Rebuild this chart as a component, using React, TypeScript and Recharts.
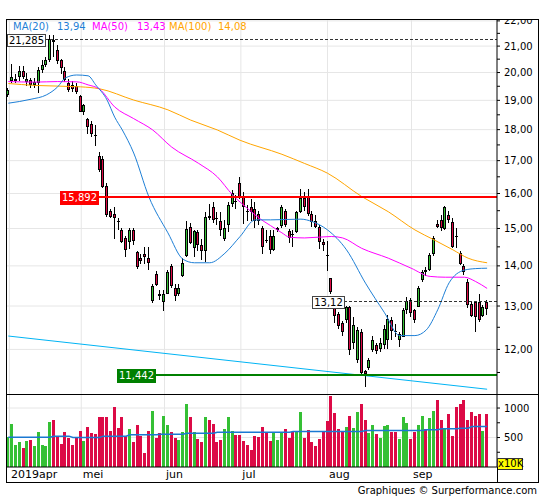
import React from 'react';
import { ComposedChart, Bar, Line, XAxis, YAxis, CartesianGrid, ReferenceLine } from 'recharts';

const FONT = '"DejaVu Sans", Verdana, sans-serif';
const GREEN = '#35c035';
const RED = '#dc0a46';
const MA20_COLOR = '#1e7fd6';
const MA50_COLOR = '#ff00ff';
const MA100_COLOR = '#ffa500';
const TREND_COLOR = '#00b4f4';
const VOLMA_COLOR = '#1a78d2';
const GRID = '#e6e6e6';

// x domain in trading-day index, price domain (log), volume domain (x10K)
const X_MIN = -0.34;
const X_MAX = 128.6;
const P_MIN = 11.032;
const P_MAX = 22.036;
const V_MAX = 1221;

// one candle per trading day, 2019-04-01 .. 2019-09-27
const opens = [
  19.2, 19.68, 19.7, 19.85, 20.05, 19.66, 19.73, 19.56, 19.6, 20.1,
  20.28, 20.45, 21.25, 20.85, 20.45, 20.05, 19.62, 19.55, 19.5, 19.15,
  18.58, 18.35, 18.2, 17.82, 17.15, 17.05, 16.22, 15.48, 15.42, 15.22,
  14.97, 14.75, 14.63, 14.95, 14.35, 14.2, 14.32, 14.2, 13.12, 13.78,
  13.28, 13.1, 13.3, 14.0, 13.45, 13.28, 13.75, 14.26, 15.05, 14.47,
  14.9, 14.55, 14.38, 15.35, 15.6, 15.3, 15.22, 14.7, 15.1, 15.68,
  15.78, 16.3, 15.9, 15.5, 15.6, 15.55, 15.4, 15.02, 14.68, 14.8,
  14.42, 14.95, 15.06, 15.48, 14.94, 14.86, 14.9, 15.45, 15.86, 15.89,
  15.42, 15.22, 15.04, 14.62, 14.28, 13.68, 12.98, 12.8, 12.6, 12.67,
  12.98, 12.15, 11.77, 12.4, 11.53, 11.6, 11.99, 12.1, 12.0, 12.1,
  12.22, 12.68, 12.41, 12.22, 12.28, 12.9, 13.15, 12.9, 12.98, 13.64,
  13.9, 13.9, 14.3, 15.12, 15.24, 14.98, 15.38, 15.19, 14.8, 14.33,
  13.99, 13.6, 13.06, 13.1, 13.1, 12.76, 13.1,
];
const highs = [
  19.45, 20.3, 19.95, 20.25, 20.25, 20.0, 19.8, 19.8, 20.2, 20.45,
  20.6, 21.45, 21.44, 21.05, 20.5, 20.2, 19.78, 19.7, 19.6, 19.2,
  18.88, 18.4, 18.3, 18.15, 17.27, 17.15, 16.3, 15.55, 15.62, 15.3,
  15.0, 14.8, 15.0, 15.0, 14.4, 14.3, 14.5, 14.5, 13.53, 13.87,
  13.4, 13.38, 13.9, 14.05, 13.55, 13.55, 14.2, 15.22, 15.15, 14.97,
  14.97, 14.7, 15.45, 15.7, 15.75, 15.45, 15.45, 15.25, 15.75, 16.1,
  15.95, 16.5, 16.05, 15.65, 15.85, 15.75, 15.5, 15.08, 14.95, 14.95,
  14.95, 15.05, 15.65, 15.55, 14.98, 14.95, 15.5, 16.12, 16.05, 16.12,
  15.48, 15.38, 15.1, 14.7, 14.65, 13.7, 13.02, 12.85, 12.65, 13.0,
  13.0, 12.75, 12.5, 12.45, 11.55, 11.82, 12.3, 12.15, 12.25, 12.55,
  12.78, 12.75, 12.57, 12.4, 12.96, 13.23, 13.2, 12.92, 13.5, 13.9,
  13.98, 14.33, 14.78, 15.24, 15.38, 15.63, 15.48, 15.28, 15.02, 14.4,
  14.05, 13.67, 13.12, 13.12, 13.28, 13.02, 13.14,
];
const lows = [
  19.12, 19.62, 19.6, 19.7, 19.75, 19.5, 19.45, 19.45, 19.25, 20.0,
  20.2, 20.4, 20.6, 20.3, 19.95, 19.65, 19.3, 19.3, 19.22, 18.58,
  18.5, 17.85, 17.75, 17.45, 16.65, 16.15, 15.33, 15.3, 14.72, 14.95,
  14.6, 14.22, 14.45, 14.55, 13.93, 14.05, 14.05, 13.9, 13.08, 13.5,
  13.15, 12.88, 13.28, 13.45, 13.12, 13.25, 13.72, 14.22, 14.57, 14.22,
  14.38, 14.15, 14.1, 15.25, 15.15, 15.1, 14.8, 14.65, 14.9, 15.6,
  15.55, 15.85, 15.12, 15.2, 15.2, 15.0, 15.1, 14.3, 14.6, 14.3,
  14.38, 14.9, 15.0, 15.05, 14.6, 14.5, 14.88, 15.43, 15.5, 15.34,
  15.05, 15.0, 14.45, 14.4, 13.87, 13.3, 12.6, 12.45, 12.3, 12.6,
  11.88, 12.0, 11.7, 11.45, 11.2, 11.55, 11.95, 11.9, 11.95, 12.0,
  12.0, 12.2, 12.27, 12.05, 12.28, 12.8, 12.75, 12.6, 12.97, 13.6,
  13.75, 13.88, 14.27, 15.0, 14.93, 14.96, 15.15, 14.47, 14.47, 14.03,
  13.76, 12.95, 12.74, 12.39, 12.62, 12.74, 12.78,
];
const closes = [
  19.35, 19.85, 19.78, 20.05, 19.83, 19.78, 19.53, 19.66, 20.1, 20.28,
  20.47, 21.285, 21.15, 20.42, 20.15, 19.73, 19.37, 19.4, 19.3, 18.6,
  18.83, 18.1, 17.85, 17.78, 16.7, 16.2, 15.38, 15.33, 15.28, 15.18,
  14.63, 14.42, 14.95, 14.65, 13.98, 14.12, 14.22, 14.08, 13.5, 13.52,
  13.25, 13.3, 13.85, 13.5, 13.25, 13.45, 14.07, 14.98, 14.6, 14.93,
  14.55, 14.38, 15.32, 15.3, 15.25, 15.26, 14.97, 15.0, 15.65, 16.0,
  15.74, 15.88, 15.6, 15.46, 15.45, 15.2, 15.2, 14.5, 14.65, 14.42,
  14.78, 15.02, 15.6, 15.1, 14.74, 14.83, 15.45, 15.86, 15.6, 15.4,
  15.17, 15.05, 14.62, 14.55, 14.25, 13.33, 12.77, 12.52, 12.4, 12.98,
  11.99, 12.55, 12.44, 11.49, 11.47, 11.77, 12.21, 11.96, 12.14, 12.46,
  12.69, 12.42, 12.39, 12.35, 12.9, 13.12, 12.84, 12.67, 13.44, 13.85,
  13.83, 14.28, 14.75, 15.05, 15.0, 15.6, 15.24, 14.5, 14.76, 14.05,
  13.84, 13.03, 12.77, 12.75, 12.66, 12.98, 12.93,
];
// volume, x10K
const volumes = [
  506, 731, 377, 427, 326, 444, 461, 360, 596, 377, 360, 765, 798, 517, 394, 596, 495, 377, 506, 613,
  444, 681, 585, 562, 850, 850, 850, 613, 1018, 664, 850, 534, 646, 427, 714, 534, 242, 613, 951, 495, 585, 867,
  720, 596, 489, 461, 600, 1069, 850, 596, 478, 422, 850, 800, 731, 416, 461, 640, 850, 610, 540, 540,
  440, 380, 292, 520, 506, 681, 585, 445, 569, 462, 586, 642, 490, 602, 602, 935, 495, 631, 417, 360, 478, 602, 783,
  1210, 923, 647, 602, 681, 867, 659, 940, 1070, 800, 574, 704, 563, 490, 698, 715, 597, 597, 478, 845, 743, 478,
  597, 715, 867, 642, 828, 951, 1137, 800, 653, 901, 529, 1013, 1070, 1137, 800, 935, 873, 901, 614, 901,
];

// moving averages: [day index, value]
const ma20Points: [number, number][] = [
  [0, 18.9], [6, 19.04], [10, 19.19], [13, 19.48], [15, 19.8], [18, 19.91], [21, 19.88], [23, 19.55],
  [26, 19.01], [28, 18.42], [30, 17.99], [33, 17.24], [37, 15.9], [42, 14.88], [46, 14.17], [49, 14.08],
  [53, 14.08], [57, 14.33], [61, 14.78], [65, 15.24], [69, 15.24], [77, 15.26], [80, 15.19], [84, 14.96],
  [89, 14.42], [94, 13.56], [99, 12.84], [103, 12.31], [107, 12.31], [110, 12.44], [113, 12.91],
  [116, 13.57], [120, 13.89], [123, 13.93], [126, 13.94],
];
const ma50Points: [number, number][] = [
  [0, 19.67], [7, 19.65], [13, 19.67], [18, 19.66], [21, 19.55], [24, 19.4], [28, 18.77], [33, 18.37],
  [38, 17.99], [43, 17.43], [50, 16.92], [55, 16.5], [59, 15.96], [63, 15.56], [66, 15.29], [69, 15.08],
  [72, 14.88], [74, 14.76], [78, 14.74], [85, 14.78], [88, 14.74], [93, 14.46], [100, 14.2], [106, 13.94],
  [111, 13.73], [115, 13.71], [120, 13.71], [123, 13.6], [126, 13.43],
];
const ma100Points: [number, number][] = [
  [0, 19.6], [7, 19.53], [19, 19.48], [24, 19.41], [33, 19.01], [42, 18.67], [48, 18.32], [55, 17.99],
  [61, 17.65], [72, 17.2], [78, 16.91], [84, 16.61], [93, 15.91], [100, 15.47], [107, 14.96],
  [112, 14.69], [117, 14.42], [121, 14.2], [126, 14.08],
];
const trendPoints: [number, number][] = [[0, 12.3], [126, 11.15]];
const volMaPoints: [number, number][] = [
  [0, 506], [11, 506], [12, 523], [16, 523], [17, 500], [24, 500], [25, 523], [31, 523], [32, 546],
  [39, 546], [40, 557], [46, 557], [47, 574], [54, 574], [55, 591], [74, 591], [75, 602], [93, 602],
  [94, 619], [109, 619], [110, 630], [113, 630], [114, 647], [118, 647], [119, 658], [121, 658],
  [122, 686], [126, 686],
];

// month grid lines (day index) and labels
const monthTicks = [0.3, 19.2, 41.1, 61.2, 84, 106.1];
const monthLabels = ['2019apr', 'mei', 'jun', 'jul', 'aug', 'sep'];

const priceTicks = [11.5, 12, 12.5, 13, 13.5, 14, 14.5, 15, 15.5, 16, 16.5, 17, 17.5, 18, 18.5, 19, 19.5, 20, 20.5, 21, 21.5, 22];
const priceGrid = [12, 13, 14, 15, 16, 17, 18, 19, 20, 21, 22];
const volumeTicks = [250, 500, 750, 1000];
const volumeGrid = [500, 1000];

// horizontal levels: value, decimals, day index where the label starts, style
const levels = [
  { value: 21.285, digits: 3, from: X_MIN, style: 'box' },
  { value: 15.892, digits: 3, from: 13.6, style: 'red' },
  { value: 11.442, digits: 3, from: 28.6, style: 'green' },
  { value: 13.12, digits: 2, from: 79.8, style: 'box' },
];

const fmt = (v: number, d = 2) => v.toFixed(d).replace('.', ',');
const textW = (s: string, size = 10) =>
  [...s].reduce((w, ch) => w + (ch === ',' || ch === '.' ? 0.318 : 0.636), 0) * size;

const ma20Map = new Map(ma20Points);
const ma50Map = new Map(ma50Points);
const ma100Map = new Map(ma100Points);
const trendMap = new Map(trendPoints);
const volMaMap = new Map(volMaPoints);

const priceRows = opens.map((o, i) => ({
  i,
  wick: [lows[i], highs[i]],
  body: [Math.min(o, closes[i]), Math.max(o, closes[i])],
  up: closes[i] >= o,
  ma20: ma20Map.get(i) ?? null,
  ma50: ma50Map.get(i) ?? null,
  ma100: ma100Map.get(i) ?? null,
  trend: trendMap.get(i) ?? null,
}));

const volumeRows = volumes.map((v, i) => ({
  i,
  vol: v,
  up: closes[i] >= opens[i],
  volMa: volMaMap.get(i) ?? null,
}));

const scaleFn = (axis: any) => (v: number) => {
  const s = axis?.scale;
  if (!s) return NaN;
  return typeof s === 'function' ? s(v) : s.map(v);
};

const Wick = (props: any) => {
  const { x, y, width, height } = props;
  if (![x, y, width, height].every(Number.isFinite)) return <g />;
  const cx = Math.round(x + width / 2 - 0.5) + 0.5;
  return <line x1={cx} x2={cx} y1={Math.round(y)} y2={Math.round(y + height)} stroke="#000" strokeWidth={1} />;
};

const CandleBody = (props: any) => {
  const { x, y, width, height } = props;
  if (![x, y, width, height].every(Number.isFinite)) return <g />;
  const up = props.payload?.up ?? props.up;
  const left = Math.round(x + width / 2 - 1.5);
  const top = Math.round(y);
  const h = Math.round(y + height) - top;
  if (h <= 1) return <rect x={left} y={top} width={3} height={1} fill="#000" />;
  return (
    <rect x={left + 0.5} y={top + 0.5} width={2} height={h - 1} fill={up ? GREEN : RED} stroke="#000" strokeWidth={1} />
  );
};

const VolumeBar = (props: any) => {
  const { x, y, width, height } = props;
  if (![x, y, width, height].every(Number.isFinite)) return <g />;
  const up = props.payload?.up ?? props.up;
  const left = Math.round(x + width / 2 - 1.5);
  const top = Math.round(y);
  return <rect x={left} y={top} width={3} height={Math.round(y + height) - top} fill={up ? GREEN : RED} />;
};

const levelShape = (value: number, digits: number, style: string) => (props: any) => {
  const { x1, x2, y1 } = props;
  if (![x1, x2, y1].every(Number.isFinite)) return <g />;
  const label = fmt(value, digits);
  const w = Math.round(textW(label) + 3);
  const left = Math.round(x1);
  const boxed = style === 'box';
  const cy = boxed ? Math.round(y1) + 0.5 : Math.round(y1);
  const boxH = boxed ? 12 : 13;
  const color = style === 'red' ? '#ff0000' : style === 'green' ? '#008000' : '#333';
  return (
    <g>
      <line
        x1={left + w}
        x2={x2}
        y1={cy}
        y2={cy}
        stroke={color}
        strokeWidth={boxed ? 1 : 2}
        strokeDasharray={boxed ? '3 2' : undefined}
      />
      <rect
        x={left + 0.5}
        y={Math.round(cy - boxH / 2) + 0.5}
        width={w}
        height={boxH}
        fill={boxed ? '#fff' : color}
        stroke={boxed ? '#444' : color}
        strokeWidth={1}
      />
      <text
        x={left + 0.5 + w / 2}
        y={cy + 4}
        textAnchor="middle"
        fontSize={10}
        fontFamily={FONT}
        fill={boxed ? '#000' : '#fff'}
      >
        {label}
      </text>
    </g>
  );
};

const MonthTick = (props: any) => {
  const { x, y, payload } = props;
  const k = monthTicks.indexOf(payload?.value);
  return (
    <text x={x + 1.5} y={y + 10.5} textAnchor="start" fontSize={11} fontFamily={FONT} fill="#000">
      {monthLabels[k] ?? ''}
    </text>
  );
};

const legendItems = [
  { text: 'MA(20)', color: MA20_COLOR, left: 13 },
  { text: fmt(ma20Points[ma20Points.length - 1][1]), color: MA20_COLOR, left: 57 },
  { text: 'MA(50)', color: MA50_COLOR, left: 92 },
  { text: fmt(ma50Points[ma50Points.length - 1][1]), color: MA50_COLOR, left: 137 },
  { text: 'MA(100)', color: MA100_COLOR, left: 169 },
  { text: fmt(ma100Points[ma100Points.length - 1][1]), color: MA100_COLOR, left: 218 },
];

const line = (left: number, top: number, width: number, height: number) => (
  <div style={{ position: 'absolute', left, top, width, height, background: '#000', zIndex: 5 }} />
);

export default function App() {
  const axisTick = { fontSize: 10, fill: '#000', fontFamily: FONT };
  return (
    <div
      style={{
        position: 'absolute',
        left: 0,
        top: 0,
        width: 545,
        height: 500,
        background: '#fff',
        fontFamily: FONT,
        overflow: 'hidden',
      }}
    >
      {/* price panel */}
      <div style={{ position: 'absolute', left: 7, top: 20 }}>
        <ComposedChart width={531} height={375} data={priceRows} margin={{ top: 0, right: 0, bottom: 0, left: 0 }}>
          <XAxis xAxisId="wick" dataKey="i" type="number" domain={[X_MIN, X_MAX]} allowDataOverflow hide />
          <XAxis xAxisId="body" dataKey="i" type="number" domain={[X_MIN, X_MAX]} allowDataOverflow hide />
          <YAxis
            yAxisId="p"
            orientation="right"
            scale="log"
            domain={[P_MIN, P_MAX]}
            allowDataOverflow
            ticks={priceTicks}
            interval={0}
            tickFormatter={(v: number) => (Number.isInteger(v) ? fmt(v) : '')}
            width={41}
            tickSize={3}
            tickMargin={4}
            axisLine={{ stroke: '#000' }}
            tickLine={{ stroke: '#000' }}
            tick={axisTick}
          />
          <CartesianGrid
            xAxisId="wick"
            yAxisId="p"
            stroke={GRID}
            horizontalCoordinatesGenerator={({ yAxis }: any) => priceGrid.map(scaleFn(yAxis))}
            verticalCoordinatesGenerator={({ xAxis }: any) => monthTicks.map(scaleFn(xAxis))}
          />
          <Bar xAxisId="wick" yAxisId="p" dataKey="wick" barSize={1} shape={Wick} isAnimationActive={false} />
          <Bar xAxisId="body" yAxisId="p" dataKey="body" barSize={3} shape={CandleBody} isAnimationActive={false} />
          <Line xAxisId="wick" yAxisId="p" dataKey="trend" type="linear" stroke={TREND_COLOR} strokeWidth={1} dot={false} connectNulls isAnimationActive={false} />
          <Line xAxisId="wick" yAxisId="p" dataKey="ma100" type="monotone" stroke={MA100_COLOR} strokeWidth={1} dot={false} connectNulls isAnimationActive={false} />
          <Line xAxisId="wick" yAxisId="p" dataKey="ma50" type="monotone" stroke={MA50_COLOR} strokeWidth={1} dot={false} connectNulls isAnimationActive={false} />
          <Line xAxisId="wick" yAxisId="p" dataKey="ma20" type="monotone" stroke={MA20_COLOR} strokeWidth={1} dot={false} connectNulls isAnimationActive={false} />
          {levels.map((l) => (
            <ReferenceLine
              key={l.value}
              xAxisId="wick"
              yAxisId="p"
              ifOverflow="visible"
              segment={[{ x: l.from, y: l.value }, { x: X_MAX, y: l.value }]}
              shape={levelShape(l.value, l.digits, l.style)}
            />
          ))}
        </ComposedChart>
      </div>

      {/* volume panel */}
      <div style={{ position: 'absolute', left: 7, top: 395 }}>
        <ComposedChart width={531} height={87} data={volumeRows} margin={{ top: 0, right: 0, bottom: 0, left: 0 }}>
          <XAxis
            xAxisId="x"
            dataKey="i"
            type="number"
            domain={[X_MIN, X_MAX]}
            allowDataOverflow
            ticks={monthTicks}
            interval={0}
            height={15}
            tickSize={0}
            tickMargin={0}
            tickLine={false}
            axisLine={{ stroke: '#000' }}
            tick={<MonthTick />}
          />
          <YAxis
            yAxisId="v"
            orientation="right"
            domain={[0, V_MAX]}
            allowDataOverflow
            ticks={volumeTicks}
            interval={0}
            tickFormatter={(v: number) => (v % 500 === 0 ? String(v) : '')}
            width={41}
            tickSize={3}
            tickMargin={4}
            axisLine={{ stroke: '#000' }}
            tickLine={{ stroke: '#000' }}
            tick={axisTick}
          />
          <CartesianGrid
            xAxisId="x"
            yAxisId="v"
            stroke={GRID}
            horizontalCoordinatesGenerator={({ yAxis }: any) => volumeGrid.map(scaleFn(yAxis))}
            verticalCoordinatesGenerator={({ xAxis }: any) => monthTicks.map(scaleFn(xAxis))}
          />
          <Bar xAxisId="x" yAxisId="v" dataKey="vol" barSize={3} shape={VolumeBar} isAnimationActive={false} />
          <Line xAxisId="x" yAxisId="v" dataKey="volMa" type="linear" stroke={VOLMA_COLOR} strokeWidth={1.5} dot={false} connectNulls isAnimationActive={false} />
        </ComposedChart>
      </div>

      {/* legend */}
      {legendItems.map((it) => (
        <div
          key={it.left}
          style={{ position: 'absolute', left: it.left, top: 21, fontSize: 10, lineHeight: '12px', color: it.color, whiteSpace: 'nowrap' }}
        >
          {it.text}
        </div>
      ))}

      {/* frame */}
      {line(6, 19, 533, 1)}
      {line(6, 482, 533, 1)}
      {line(6, 19, 1, 464)}
      {line(538, 19, 1, 464)}
      {line(7, 394, 531, 1)}
      {line(497, 467, 1, 15)}

      <div
        style={{
          position: 'absolute',
          left: 497,
          top: 458,
          width: 26,
          height: 12,
          boxSizing: 'border-box',
          background: '#ffff00',
          border: '1px solid #333',
          fontSize: 10,
          lineHeight: '10px',
          textAlign: 'center',
          color: '#000',
        }}
      >
        x10K
      </div>

      <div
        style={{
          position: 'absolute',
          left: 0,
          top: 485,
          width: 537,
          textAlign: 'right',
          fontSize: 10,
          lineHeight: '12px',
          color: '#000',
          whiteSpace: 'nowrap',
        }}
      >
        Graphiques © Surperformance.com
      </div>
    </div>
  );
}
